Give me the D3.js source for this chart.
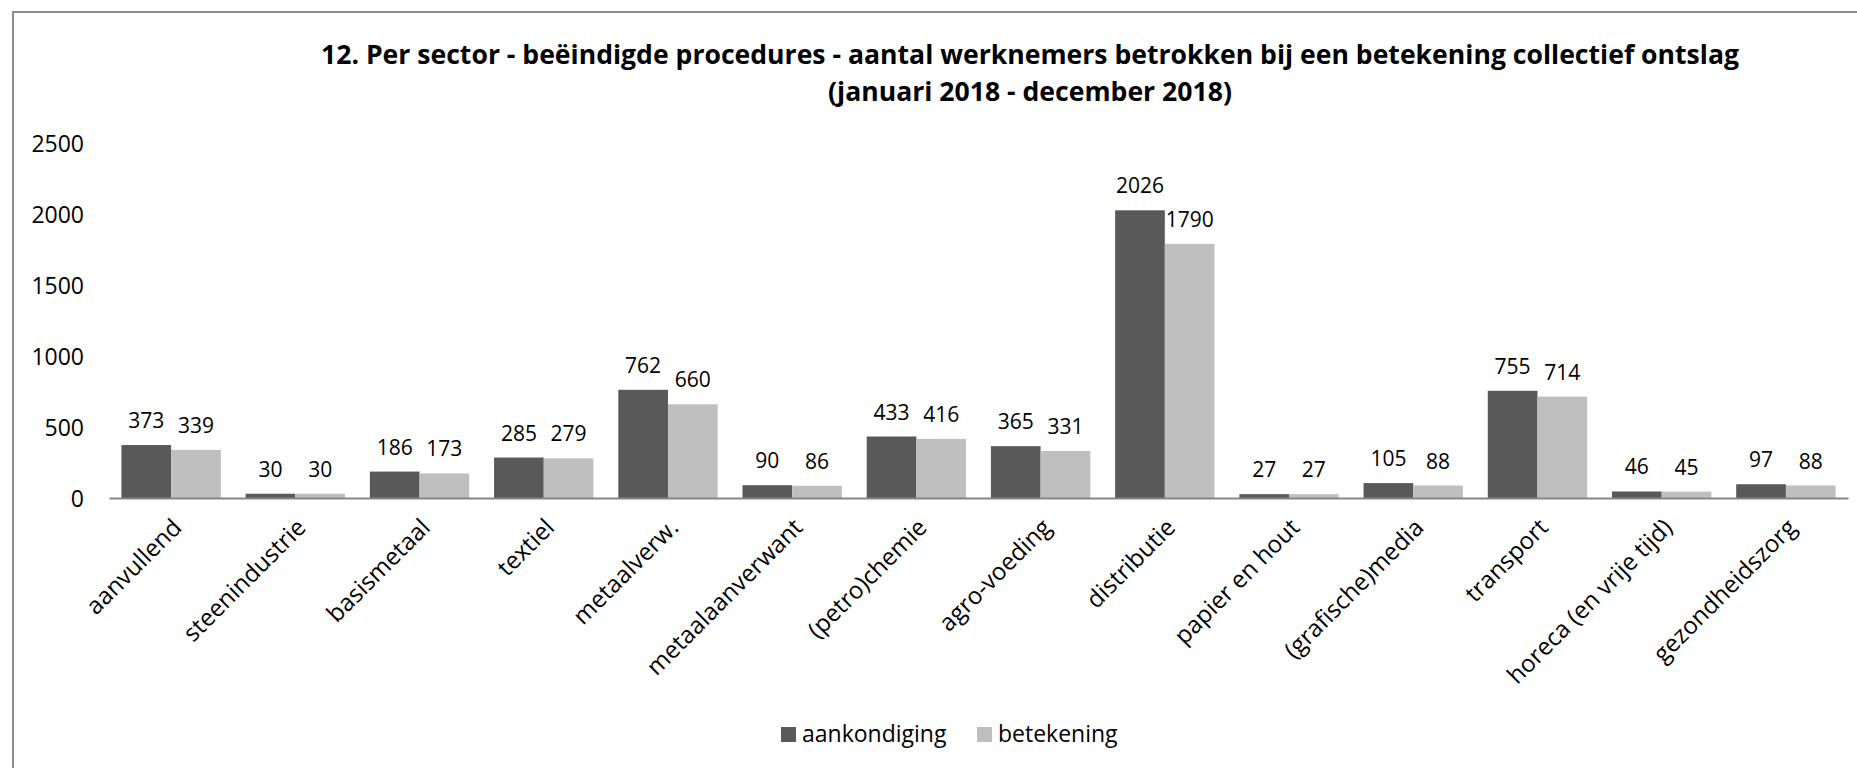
<!DOCTYPE html>
<html>
<head>
<meta charset="utf-8">
<script src="https://cdn.jsdelivr.net/npm/d3@7"></script>
<style>
  html, body { margin: 0; padding: 0; background: #fff; }
  svg { display: block; font-family: "Open Sans", "Noto Sans", sans-serif; }
</style>
</head>
<body>
<svg id="chart" width="1857" height="768"></svg>
<script>
const titleLines = [
  "12. Per sector - beëindigde procedures - aantal werknemers betrokken bij een betekening collectief ontslag",
  "(januari 2018 - december 2018)"
];
const categories = ["aanvullend", "steenindustrie", "basismetaal", "textiel", "metaalverw.", "metaalaanverwant",
  "(petro)chemie", "agro-voeding", "distributie", "papier en hout", "(grafische)media", "transport",
  "horeca (en vrije tijd)", "gezondheidszorg"];
const seriesNames = ["aankondiging", "betekening"];
const aankondiging = [373, 30, 186, 285, 762, 90, 433, 365, 2026, 27, 105, 755, 46, 97];
const betekening   = [339, 30, 173, 279, 660, 86, 416, 331, 1790, 27, 88, 714, 45, 88];
const yTicks = [0, 500, 1000, 1500, 2000, 2500];
const colors = ["#595959", "#bfbfbf"];

const seriesValues = [aankondiging, betekening];
const svg = d3.select("#chart");

// frame
svg.append("rect").attr("x", 13).attr("y", 12).attr("width", 1900).attr("height", 800)
  .attr("fill", "none").attr("stroke", "#8a8a8a").attr("stroke-width", 2);

const x0 = d3.scaleBand().domain(categories).range([109, 1848]).paddingInner(0).paddingOuter(0);
const x1 = d3.scaleBand().domain(seriesNames).range([0, x0.bandwidth()]).paddingInner(0).paddingOuter(0.25);
const y = d3.scaleLinear().domain([0, 2500]).range([498, 143]);

// y tick labels
const yAxis = d3.axisLeft(y).tickValues(yTicks).tickFormat(d3.format("d")).tickSize(0).tickPadding(0);
const gy = svg.append("g").attr("transform", "translate(84,0)").call(yAxis);
gy.select(".domain").remove();
gy.selectAll("text").attr("font-size", 23).attr("fill", "#000").attr("font-family", "'Open Sans', sans-serif").attr("dy", "0.36em");

// bars
const rows = categories.map((c, i) => ({ cat: c, vals: seriesNames.map((s, j) => ({ s, j, v: seriesValues[j][i] })) }));
const groups = svg.append("g").selectAll("g").data(rows).join("g")
  .attr("transform", d => `translate(${x0(d.cat)},0)`);
groups.selectAll("rect").data(d => d.vals).join("rect")
  .attr("x", d => x1(d.s)).attr("width", x1.bandwidth())
  .attr("y", d => y(d.v)).attr("height", d => y(0) - y(d.v))
  .attr("fill", d => colors[d.j]);
groups.selectAll("text").data(d => d.vals).join("text")
  .attr("x", d => x1(d.s) + x1.bandwidth() / 2)
  .attr("y", d => y(d.v) - 17)
  .attr("text-anchor", "middle").attr("font-size", 21).attr("fill", "#000")
  .text(d => d.v);

// x axis
const xAxis = d3.axisBottom(x0).tickSize(0).tickPadding(0);
const gx = svg.append("g").attr("transform", `translate(0,${y(0)})`).call(xAxis);
gx.select(".domain").attr("stroke", "#868686").attr("stroke-width", 2);
gx.selectAll(".tick text")
  .attr("font-size", 24).attr("fill", "#000").attr("font-family", "'Open Sans', sans-serif")
  .attr("text-anchor", "end")
  .attr("y", 0).attr("dy", 0)
  .attr("transform", "translate(12,31) rotate(-45)");

// title
const title = svg.append("g");
const t1 = title.append("text").attr("x", 1030).attr("y", 53).attr("text-anchor", "middle")
  .attr("dominant-baseline", "central").attr("font-weight", "bold").attr("font-size", 27).attr("fill", "#000")
  .text(titleLines[0]);
const w1 = t1.node().getComputedTextLength();
const ratio = 1418 / w1;
t1.attr("textLength", 1418).attr("lengthAdjust", "spacingAndGlyphs");
const t2 = title.append("text").attr("x", 1030).attr("y", 90).attr("text-anchor", "middle")
  .attr("dominant-baseline", "central").attr("font-weight", "bold").attr("font-size", 27).attr("fill", "#000")
  .text(titleLines[1]);
const w2 = t2.node().getComputedTextLength();
t2.attr("textLength", w2 * ratio).attr("lengthAdjust", "spacingAndGlyphs");

// legend
const legendX = [781, 977];
const leg = svg.append("g").selectAll("g").data(seriesNames).join("g")
  .attr("transform", (d, i) => `translate(${legendX[i]},0)`);
leg.append("rect").attr("x", 0).attr("y", 727).attr("width", 15).attr("height", 15)
  .attr("fill", (d, i) => colors[i]);
leg.append("text").attr("x", 21).attr("y", 741.5).attr("font-size", 23).attr("fill", "#000").text(d => d);
</script>
</body>
</html>
